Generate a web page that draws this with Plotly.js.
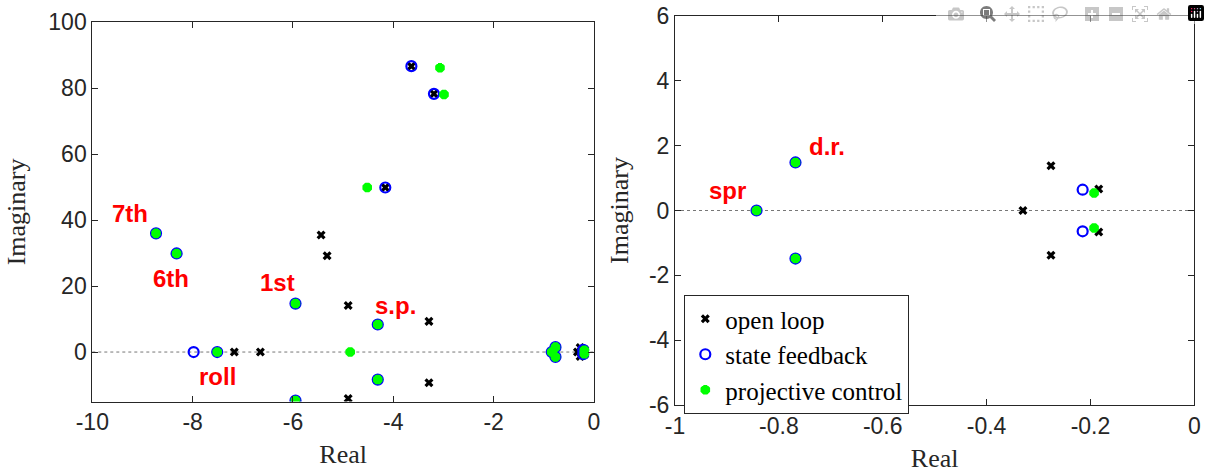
<!DOCTYPE html>
<html>
<head>
<meta charset="utf-8">
<script src="https://cdn.plot.ly/plotly-3.0.1.min.js"></script>
<style>html,body{margin:0;padding:0;background:#fff;}#chart{width:1210px;height:475px;}
#chart .legendtext, #chart .legendtext tspan{font-family:"Liberation Serif",serif !important;}</style>
</head>
<body>
<div id="chart"></div>
<script>
// Poles: real and imaginary parts
const openLoopRe = [-3.64, -3.19, -4.16, -5.44, -5.32, -4.90, -4.90, -3.29, -3.29, -7.17, -6.65, -0.33, -0.276, -0.276, -0.184, -0.184];
const openLoopIm = [86.7, 78.3, 49.9, 35.5, 29.2, 14.1, -14.1, 9.3, -9.3, 0, 0, 0, 1.38, -1.38, 0.66, -0.66];

const stateFbRe = [-3.64, -3.19, -4.16, -8.73, -8.32, -5.95, -5.95, -4.31, -4.31, -7.98, -7.51, -0.843, -0.768, -0.768, -0.215, -0.215];
const stateFbIm = [86.7, 78.3, 49.9, 36.0, 29.9, 14.7, -14.7, 8.35, -8.35, 0, 0, 0, 1.48, -1.48, 0.64, -0.64];

const projRe = [-3.07, -2.99, -4.52, -8.73, -8.32, -5.95, -5.95, -4.31, -4.31, -4.86, -7.51, -0.843, -0.768, -0.768, -0.193, -0.193];
const projIm = [86.2, 78.1, 49.9, 36.0, 29.9, 14.7, -14.7, 8.35, -8.35, 0, 0, 0, 1.48, -1.48, 0.54, -0.54];

const seriesNames = ['open loop', 'state feedback', 'projective control'];

const leftXTicks = [-10, -8, -6, -4, -2, 0];
const leftXTickText = ['-10', '-8', '-6', '-4', '-2', '0'];
const leftYTicks = [0, 20, 40, 60, 80, 100];
const leftYTickText = ['0', '20', '40', '60', '80', '100'];
const rightXTicks = [-1, -0.8, -0.6, -0.4, -0.2, 0];
const rightXTickText = ['-1', '-0.8', '-0.6', '-0.4', '-0.2', '0'];
const rightYTicks = [-6, -4, -2, 0, 2, 4, 6];
const rightYTickText = ['-6', '-4', '-2', '0', '2', '4', '6'];

const W = 1210, H = 475;
const axCol = '#262626';
const SERIF = 'Liberation Serif';
const SANS = 'Liberation Sans';

function mk(re, im, name, style, xa, ya, showleg) {
  return Object.assign({
    type: 'scatter', mode: 'markers', x: re, y: im, name: name,
    xaxis: xa, yaxis: ya, showlegend: showleg
  }, style);
}
function olStyle() { return {marker: {symbol: 'x', size: 8, color: '#000000'}}; }
function sfStyle() { return {marker: {symbol: 'circle-open', size: 10, color: '#0000FF', line: {width: 2.2, color: '#0000FF'}}}; }
function pcStyle() { return {marker: {symbol: 'asterisk-open', size: 8, color: '#00FF00', line: {width: 4, color: '#00FF00'}}}; }

const traces = [
  mk(openLoopRe, openLoopIm, seriesNames[0], olStyle(), 'x2', 'y2', true),
  mk(stateFbRe, stateFbIm, seriesNames[1], sfStyle(), 'x2', 'y2', true),
  mk(projRe, projIm, seriesNames[2], pcStyle(), 'x2', 'y2', true),
  mk(openLoopRe, openLoopIm, seriesNames[0], olStyle(), 'x', 'y', false),
  mk(stateFbRe, stateFbIm, seriesNames[1], sfStyle(), 'x', 'y', false),
  mk(projRe, projIm, seriesNames[2], pcStyle(), 'x', 'y', false)
];

function axis(dom, range, tv, tt, title, anchor, standoff) {
  return {
    domain: dom, range: range, anchor: anchor,
    tickmode: 'array', tickvals: tv, ticktext: tt,
    ticks: 'inside', ticklen: 6, tickwidth: 1, tickcolor: axCol,
    showline: true, linecolor: axCol, linewidth: 1, mirror: 'ticks',
    showgrid: false, zeroline: false,
    tickfont: {family: SANS, size: 23, color: axCol},
    title: {text: title, font: {family: SERIF, size: 26, color: axCol}, standoff: standoff}
  };
}

function lab(text, x, y, xr, yr) {
  return {text: '<b>' + text + '</b>', x: x, y: y, xref: xr, yref: yr, showarrow: false,
          font: {family: SANS, size: 24, color: '#FF0000'}, xanchor: 'center', yanchor: 'middle'};
}

const layout = {
  width: W, height: H,
  font: {family: SERIF, size: 25, color: '#000000'},
  margin: {l: 0, r: 0, t: 0, b: 0},
  xaxis: axis([92.3 / W, 594 / W], [-10, 0], leftXTicks, leftXTickText, 'Real', 'y', 10),
  yaxis: axis([(H - 401.5) / H, (H - 22.3) / H], [-15, 100], leftYTicks, leftYTickText, 'Imaginary', 'x', 15),
  xaxis2: axis([675 / W, 1194.3 / W], [-1, 0], rightXTicks, rightXTickText, 'Real', 'y2', 10),
  yaxis2: axis([(H - 405.3) / H, (H - 15.7) / H], [-6, 6], rightYTicks, rightYTickText, 'Imaginary', 'x2', 12),
  shapes: [
    {type: 'line', xref: 'x domain', yref: 'y', x0: 0, x1: 1, y0: 0, y1: 0, layer: 'below',
     line: {color: '#777777', width: 1, dash: 'dot'}},
    {type: 'line', xref: 'x2 domain', yref: 'y2', x0: 0, x1: 1, y0: 0, y1: 0, layer: 'below',
     line: {color: '#777777', width: 1, dash: 'dot'}}
  ],
  annotations: [
    lab('7th', -9.25, 41.9, 'x', 'y'),
    lab('6th', -8.44, 22.4, 'x', 'y'),
    lab('1st', -6.30, 21.1, 'x', 'y'),
    lab('s.p.', -3.96, 14.0, 'x', 'y'),
    lab('roll', -7.51, -7.5, 'x', 'y'),
    lab('spr', -0.899, 0.63, 'x2', 'y2'),
    lab('d.r.', -0.707, 1.96, 'x2', 'y2')
  ],
  legend: {
    x: 684.3 / W, y: (H - 295) / H, xanchor: 'left', yanchor: 'top',
    bordercolor: axCol, borderwidth: 1,
    font: {family: SERIF, size: 25, color: '#000000'}
  }
};

Plotly.newPlot('chart', traces, layout).then(function (gd) {
  document.querySelectorAll('#chart .legendtext').forEach(function (el) {
    el.style.setProperty('font-family', '"Liberation Serif", serif', 'important');
  });
});
</script>
</body>
</html>
